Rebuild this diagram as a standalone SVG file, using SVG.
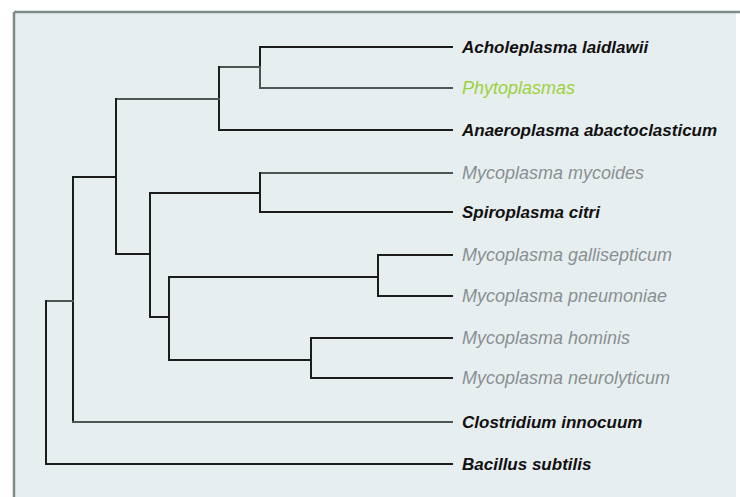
<svg xmlns="http://www.w3.org/2000/svg" width="740" height="497" viewBox="0 0 740 497">
<style>
.br{fill:none;stroke:#1c1c1c;stroke-width:2;stroke-linecap:square}
.bg{fill:none;stroke:#4f5555;stroke-width:2;stroke-linecap:square}
text{font-family:"Liberation Sans",Arial,sans-serif;font-style:italic;font-size:18px}
.k{fill:#111;font-weight:bold;font-size:17px}
.g{fill:#8a9091}
.p{fill:#9bd23c}
</style>
<rect x="0" y="0" width="740" height="497" fill="#ffffff"/>
<rect x="14" y="12" width="722" height="485" fill="#e7eef0"/>
<path d="M14,12 H740 M14,12 V497" fill="none" stroke="#7f8a8a" stroke-width="2.5"/>
<g id="connectors">
<path class="br" d="M260,47 V67 M260,47 H452"/>
<path class="bg" d="M260,67 V88 H452 M219,67 H260"/>
<path class="br" d="M219,67 V130 H452"/>
<path class="bg" d="M116,99 H219"/>
<path class="bg" d="M260,173 H452"/>
<path class="br" d="M260,173 V212 H452 M150,193 H260"/>
<path class="br" d="M378,255 H452 M378,255 V296 H452 M169,277 H378"/>
<path class="br" d="M311,338 H452 M311,338 V378 H452 M169,360 H311"/>
<path class="br" d="M169,277 V360 M150,317 H169"/>
<path class="br" d="M150,193 V317 M116,254 H150"/>
<path class="br" d="M116,99 V254 M73,177 H116"/>
<path class="br" d="M73,177 V422"/>
<path class="bg" d="M73,422 H452 M46,301 H73"/>
<path class="br" d="M46,301 V464 H452"/>
</g>
<g id="n1"><text class="k" x="462" y="53">Acholeplasma laidlawii</text></g>
<g id="n2"><text class="p" x="462" y="94">Phytoplasmas</text></g>
<g id="n3"><text class="k" x="462" y="136">Anaeroplasma abactoclasticum</text></g>
<g id="n4"><text class="g" x="462" y="179">Mycoplasma mycoides</text></g>
<g id="n5"><text class="k" x="462" y="218">Spiroplasma citri</text></g>
<g id="n6"><text class="g" x="462" y="261">Mycoplasma gallisepticum</text></g>
<g id="n7"><text class="g" x="462" y="302">Mycoplasma pneumoniae</text></g>
<g id="n8"><text class="g" x="462" y="344">Mycoplasma hominis</text></g>
<g id="n9"><text class="g" x="462" y="384">Mycoplasma neurolyticum</text></g>
<g id="n10"><text class="k" x="462" y="428">Clostridium innocuum</text></g>
<g id="n11"><text class="k" x="462" y="470">Bacillus subtilis</text></g>
</svg>
